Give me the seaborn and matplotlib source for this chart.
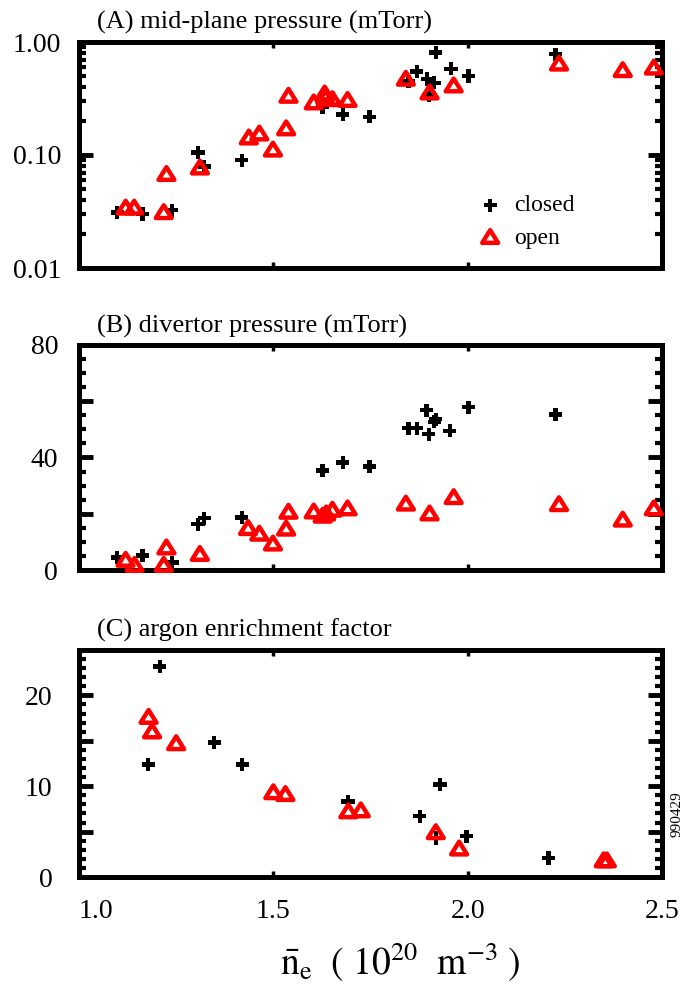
import numpy as np
import pandas as pd
import seaborn as sns
import matplotlib.pyplot as plt
from matplotlib.path import Path
from matplotlib.ticker import FixedLocator, FuncFormatter, LogLocator, MultipleLocator, NullLocator

# (A) mid-plane pressure (mTorr)
a_closed_ne = [1.098, 1.163, 1.239, 1.306, 1.322, 1.419, 1.627, 1.679, 1.747, 1.848,
               1.869, 1.896, 1.914, 1.900, 1.918, 1.957, 2.002, 2.226]
a_closed_p = [0.031, 0.030, 0.0325, 0.105, 0.079, 0.090, 0.265, 0.229, 0.218, 0.45,
              0.55, 0.47, 0.435, 0.34, 0.81, 0.58, 0.50, 0.78]
a_open_ne = [1.120, 1.142, 1.218, 1.225, 1.311, 1.437, 1.464, 1.499, 1.533, 1.539, 1.604,
             1.632, 1.634, 1.652, 1.691, 1.841, 1.902, 1.964, 2.235, 2.399, 2.479]
a_open_p = [0.034, 0.034, 0.031, 0.0675, 0.077, 0.142, 0.154, 0.111, 0.171, 0.332, 0.29,
            0.348, 0.32, 0.31, 0.305, 0.47, 0.355, 0.41, 0.64, 0.56, 0.59]

# (B) divertor pressure (mTorr)
b_closed_ne = [1.098, 1.163, 1.240, 1.306, 1.322, 1.419, 1.627, 1.679, 1.747, 1.848,
               1.869, 1.894, 1.900, 1.914, 1.918, 1.954, 2.002, 2.226]
b_closed_p = [4.4, 5.2, 2.6, 16.3, 18.4, 18.6, 35.4, 38.2, 36.8, 50.4,
              50.4, 56.8, 48.3, 52.7, 53.6, 49.5, 57.9, 55.3]
b_open_ne = [1.120, 1.143, 1.218, 1.225, 1.311, 1.435, 1.464, 1.499, 1.533, 1.539, 1.604,
             1.627, 1.636, 1.652, 1.691, 1.841, 1.902, 1.964, 2.235, 2.399, 2.479]
b_open_p = [3.5, 1.7, 1.7, 7.9, 5.6, 14.8, 12.8, 9.3, 14.6, 20.6, 20.7,
            19.2, 20.0, 21.3, 21.8, 23.5, 20.0, 25.8, 23.3, 17.8, 21.8]

# (C) argon enrichment factor
c_closed_ne = [1.208, 1.178, 1.348, 1.420, 1.692, 1.877, 1.929, 1.918, 1.997, 2.208]
c_closed_f = [23.2, 12.4, 14.8, 12.4, 8.3, 6.7, 10.2, 4.3, 4.5, 2.1]
c_open_ne = [1.179, 1.188, 1.250, 1.500, 1.531, 1.693, 1.725, 1.918, 1.978, 2.350, 2.358]
c_open_f = [17.6, 16.0, 14.7, 9.3, 9.1, 7.2, 7.3, 4.9, 3.1, 1.8, 1.8]

titles = ['(A) mid-plane pressure (mTorr)', '(B) divertor pressure (mTorr)',
          '(C) argon enrichment factor']
xticks = [1.0, 1.5, 2.0, 2.5]

sns.set_style('ticks')
plt.rcParams['font.family'] = ['Liberation Serif', 'DejaVu Serif']
plt.rcParams['mathtext.fontset'] = 'stix'
for k in ['axes.edgecolor', 'xtick.color', 'ytick.color', 'text.color', 'axes.labelcolor']:
    plt.rcParams[k] = 'black'

tri = Path([(-1, -0.7), (1, -0.7), (0, 0.9), (-1, -0.7)],
           [Path.MOVETO, Path.LINETO, Path.LINETO, Path.CLOSEPOLY])

W, H = 684, 988
fig = plt.figure(figsize=(6.84, 9.88), dpi=100)
boxes = [(42, 268), (345, 570), (650, 877)]
axes = []
for top, bot in boxes:
    axes.append(fig.add_axes([79 / W, 1 - bot / H, (662 - 79) / W, (bot - top) / H]))

panels = [
    (a_closed_ne, a_closed_p, a_open_ne, a_open_p),
    (b_closed_ne, b_closed_p, b_open_ne, b_open_p),
    (c_closed_ne, c_closed_f, c_open_ne, c_open_f),
]

for i, (ax, (cx, cy, ox, oy)) in enumerate(zip(axes, panels)):
    closed = pd.DataFrame({'ne': cx, 'val': cy})
    opn = pd.DataFrame({'ne': ox, 'val': oy})
    sns.scatterplot(data=closed, x='ne', y='val', ax=ax, marker='P', s=90, color='black',
                    edgecolor='none', linewidth=0, label='closed', clip_on=False, zorder=3)
    sns.scatterplot(data=opn, x='ne', y='val', ax=ax, marker=tri, s=130, facecolor='none',
                    edgecolor='red', linewidth=3.2, label='open', clip_on=False, zorder=4)
    ax.set_xlim(1.0, 2.5)
    ax.set_xlabel('')
    ax.set_ylabel('')
    for sp in ax.spines.values():
        sp.set_linewidth(3.6)
        sp.set_color('black')
        sp.set_visible(True)
    ax.xaxis.set_major_locator(FixedLocator(xticks))
    ax.xaxis.set_minor_locator(NullLocator())
    ax.tick_params(axis='x', which='major', direction='in', top=True, bottom=True,
                   length=4, width=2.5, labelsize=20, pad=16)
    ax.tick_params(axis='y', which='major', direction='in', left=True, right=True,
                   length=10, width=3.5, labelsize=20)
    ax.tick_params(axis='y', which='minor', direction='in', left=True, right=True,
                   length=5, width=3)
    fig.text(97 / W, 1 - [22, 326, 630][i] / H, titles[i], fontsize=19, va='center', ha='left')
    if i < 2:
        ax.tick_params(axis='x', labelbottom=False)
    if ax.get_legend() is not None and i > 0:
        ax.get_legend().remove()

# panel A: log scale
ax = axes[0]
ax.set_yscale('log')
ax.set_ylim(0.01, 1.0)
ax.yaxis.set_major_locator(FixedLocator([0.01, 0.1, 1.0]))
ax.yaxis.set_minor_locator(LogLocator(base=10, subs=np.arange(2, 10)))
ax.yaxis.set_major_formatter(FuncFormatter(lambda v, p: f'{v:.2f}'))
ax.tick_params(axis='y', which='major', pad=13)
ax.tick_params(axis='y', which='minor', direction='in', left=True, right=True, length=5, width=3)
ax.legend(loc='center left', bbox_to_anchor=(0.685, 0.205), frameon=False, fontsize=17,
          handlelength=1.0, handletextpad=0.5, labelspacing=0.45, borderpad=0, borderaxespad=0)

# panel B
ax = axes[1]
ax.set_ylim(0, 80)
ax.yaxis.set_major_locator(MultipleLocator(20))
ax.yaxis.set_minor_locator(MultipleLocator(5))
ax.yaxis.set_major_formatter(FuncFormatter(lambda v, p: f'{v:.0f}' if round(v) % 40 == 0 else ''))
ax.tick_params(axis='y', which='major', pad=15)

# panel C
ax = axes[2]
ax.set_ylim(0, 25)
ax.yaxis.set_major_locator(MultipleLocator(5))
ax.yaxis.set_minor_locator(MultipleLocator(1))
ax.yaxis.set_major_formatter(FuncFormatter(lambda v, p: f'{v:.0f}' if round(v) % 10 == 0 else ''))
ax.tick_params(axis='y', which='major', pad=19)
ax.xaxis.set_major_formatter(FuncFormatter(lambda v, p: f'{v:.1f}'))
fig.canvas.draw()
ax.get_xticklabels()[0].set_ha('left')

fig.text(400 / W, 1 - 962 / H, r'$\bar{\mathrm{n}}_\mathrm{e}\ \ (\ 10^{20}\ \ \mathrm{m}^{-3}\ )$',
         fontsize=27, ha='center', va='center')
fig.text(677 / W, 1 - 814 / H, '990429', fontsize=11, rotation=90, ha='center', va='center')

fig.savefig('out.png', dpi=100)
